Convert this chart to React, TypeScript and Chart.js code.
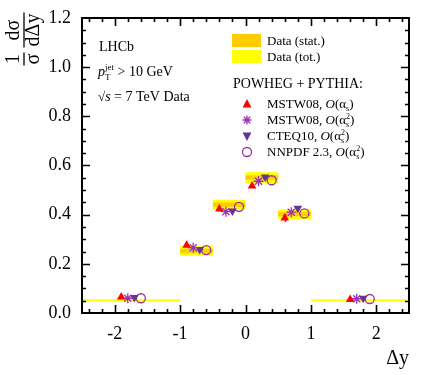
import React, { useEffect, useRef } from "react";
import { Chart, registerables } from "chart.js";

Chart.register(...registerables);

// ---- data ----
const binLo = [-2.5, -1, -0.5, 0, 0.5, 1];
const binHi = [-1, -0.5, 0, 0.5, 1, 2.5];
const dataVal = [0.052, 0.253, 0.441, 0.551, 0.402, 0.052];
const dataStat = [0.0012, 0.008, 0.009, 0.009, 0.008, 0.0012];
const dataTot = [0.004, 0.019, 0.02, 0.022, 0.02, 0.004];

const mstwLOx = [-1.9, -0.9, -0.4, 0.1, 0.6, 1.6];
const mstwLOy = [0.065, 0.276, 0.423, 0.517, 0.386, 0.055];
const mstwLOerr = [0, 0, 0, 0, 0.016, 0];
const mstwNLOx = [-1.8, -0.8, -0.3, 0.2, 0.7, 1.7];
const mstwNLOy = [0.06, 0.265, 0.412, 0.536, 0.41, 0.058];
const cteqx = [-1.7, -0.7, -0.2, 0.3, 0.8, 1.8];
const cteqy = [0.063, 0.258, 0.415, 0.553, 0.426, 0.06];
const nnpdfx = [-1.6, -0.6, -0.1, 0.4, 0.9, 1.9];
const nnpdfy = [0.06, 0.256, 0.432, 0.54, 0.405, 0.057];

const xTickValues = [-2, -1, 0, 1, 2];
const yTickValues = [0, 0.2, 0.4, 0.6, 0.8, 1.0, 1.2];

const RED = "#FF0000";
const STAR = "#9933BB";
const DOWN = "#663399";
const CIRC = "#993399";
const ORANGE = "#FFCC00";
const YELLOW = "#FFFF00";
const SERIF = "'Liberation Serif', 'DejaVu Serif', serif";

type Part = { t: string; f: string; dy?: number; adv?: boolean };
function drawRich(ctx: CanvasRenderingContext2D, x: number, y: number, parts: Part[]) {
  let cx = x;
  let pending = 0;
  for (const p of parts) {
    ctx.font = p.f;
    const w = ctx.measureText(p.t).width;
    if (p.adv === false) {
      ctx.fillText(p.t, cx, y + (p.dy || 0));
      pending = Math.max(pending, w);
    } else {
      cx += pending;
      pending = 0;
      ctx.fillText(p.t, cx, y + (p.dy || 0));
      cx += w;
    }
  }
}

const toPts = (xs: number[], ys: number[]) => xs.map((x, i) => ({ x, y: ys[i] }));

const decorPlugin = {
  id: "decor",
  beforeDatasetsDraw(chart: any) {
    const { ctx, scales } = chart;
    const xs = scales.x;
    const ys = scales.y;
    ctx.save();
    for (let i = 0; i < binLo.length; i++) {
      const x0 = xs.getPixelForValue(binLo[i]);
      const x1 = xs.getPixelForValue(binHi[i]);
      const yt0 = ys.getPixelForValue(dataVal[i] + dataTot[i]);
      const yt1 = ys.getPixelForValue(dataVal[i] - dataTot[i]);
      ctx.fillStyle = YELLOW;
      ctx.fillRect(x0, yt0, x1 - x0, Math.max(2, yt1 - yt0));
      const ys0 = ys.getPixelForValue(dataVal[i] + dataStat[i]);
      const ys1 = ys.getPixelForValue(dataVal[i] - dataStat[i]);
      if (ys1 - ys0 >= 1.5) {
        ctx.fillStyle = ORANGE;
        ctx.fillRect(x0, ys0, x1 - x0, ys1 - ys0);
      }
    }
    // error bars on MSTW08 LO
    ctx.strokeStyle = RED;
    ctx.lineWidth = 1.5;
    ctx.beginPath();
    for (let i = 0; i < mstwLOx.length; i++) {
      if (!mstwLOerr[i]) continue;
      const px = Math.round(xs.getPixelForValue(mstwLOx[i])) + 0.5;
      ctx.moveTo(px, ys.getPixelForValue(mstwLOy[i] - mstwLOerr[i]));
      ctx.lineTo(px, ys.getPixelForValue(mstwLOy[i] + mstwLOerr[i]));
    }
    ctx.stroke();
    ctx.restore();
  },
  afterDraw(chart: any) {
    const { ctx, chartArea: a, scales } = chart;
    const xs = scales.x;
    const ys = scales.y;
    ctx.save();
    // frame
    ctx.strokeStyle = "#000";
    ctx.lineWidth = 2;
    ctx.strokeRect(a.left, a.top, a.right - a.left, a.bottom - a.top);
    // ticks
    ctx.lineWidth = 1.6;
    ctx.beginPath();
    for (let k = -24; k <= 24; k += 2) {
      const v = k / 10;
      const major = k % 10 === 0;
      const len = major ? 8 : 4;
      const px = Math.round(xs.getPixelForValue(v)) + 0.5;
      ctx.moveTo(px, a.bottom);
      ctx.lineTo(px, a.bottom - len);
      ctx.moveTo(px, a.top);
      ctx.lineTo(px, a.top + len);
    }
    for (let k = 1; k < 24; k++) {
      const v = k * 0.05;
      const major = k % 4 === 0;
      const len = major ? 8 : 4;
      const py = Math.round(ys.getPixelForValue(v)) + 0.5;
      ctx.moveTo(a.left, py);
      ctx.lineTo(a.left + len, py);
      ctx.moveTo(a.right, py);
      ctx.lineTo(a.right - len, py);
    }
    ctx.stroke();

    ctx.fillStyle = "#000";
    ctx.textBaseline = "alphabetic";
    ctx.textAlign = "left";

    // left annotations
    drawRich(ctx, 99, 51, [{ t: "LHCb", f: `14px ${SERIF}` }]);
    drawRich(ctx, 98, 76, [
      { t: "p", f: `italic 14px ${SERIF}` },
      { t: "T", f: `9px ${SERIF}`, dy: 4, adv: false },
      { t: "jet", f: `9px ${SERIF}`, dy: -6, adv: false },
      { t: " > 10 GeV", f: `14px ${SERIF}` },
    ]);
    drawRich(ctx, 98, 101, [
      { t: "\u221A", f: `13px ${SERIF}` },
      { t: "s", f: `italic 14px ${SERIF}` },
      { t: " = 7 TeV Data", f: `14px ${SERIF}` },
    ]);

    // legend
    ctx.fillStyle = ORANGE;
    ctx.fillRect(232, 34, 29, 13);
    ctx.fillStyle = YELLOW;
    ctx.fillRect(232, 50, 29, 13);
    ctx.fillStyle = "#000";
    drawRich(ctx, 267, 45, [{ t: "Data (stat.)", f: `13px ${SERIF}` }]);
    drawRich(ctx, 267, 61, [{ t: "Data (tot.)", f: `13px ${SERIF}` }]);
    drawRich(ctx, 233, 88, [{ t: "POWHEG + PYTHIA:", f: `14px ${SERIF}` }]);

    const mx = 247;
    const rows = [104, 120, 136, 152];
    // triangle up
    ctx.fillStyle = RED;
    ctx.beginPath();
    ctx.moveTo(mx, rows[0] - 5);
    ctx.lineTo(mx + 4.5, rows[0] + 3.5);
    ctx.lineTo(mx - 4.5, rows[0] + 3.5);
    ctx.closePath();
    ctx.fill();
    // star
    ctx.strokeStyle = STAR;
    ctx.lineWidth = 1.3;
    ctx.beginPath();
    for (let j = 0; j < 4; j++) {
      const ang = (j * Math.PI) / 4;
      ctx.moveTo(mx + 4.5 * Math.cos(ang), rows[1] + 4.5 * Math.sin(ang));
      ctx.lineTo(mx - 4.5 * Math.cos(ang), rows[1] - 4.5 * Math.sin(ang));
    }
    ctx.stroke();
    // triangle down
    ctx.fillStyle = DOWN;
    ctx.beginPath();
    ctx.moveTo(mx, rows[2] + 5);
    ctx.lineTo(mx + 4.5, rows[2] - 3.5);
    ctx.lineTo(mx - 4.5, rows[2] - 3.5);
    ctx.closePath();
    ctx.fill();
    // circle
    ctx.strokeStyle = CIRC;
    ctx.lineWidth = 1.3;
    ctx.beginPath();
    ctx.arc(mx, rows[3], 4.5, 0, Math.PI * 2);
    ctx.stroke();

    ctx.fillStyle = "#000";
    const f13 = `13px ${SERIF}`;
    const fi13 = `italic 13px ${SERIF}`;
    const f8 = `8px ${SERIF}`;
    drawRich(ctx, 267, rows[0] + 4, [
      { t: "MSTW08, ", f: f13 },
      { t: "O", f: fi13 },
      { t: "(\u03B1", f: f13 },
      { t: "s", f: f8, dy: 3 },
      { t: ")", f: f13 },
    ]);
    const sq = (label: string, y: number) =>
      drawRich(ctx, 267, y, [
        { t: label, f: f13 },
        { t: "O", f: fi13 },
        { t: "(\u03B1", f: f13 },
        { t: "s", f: f8, dy: 3, adv: false },
        { t: "2", f: f8, dy: -5, adv: false },
        { t: ")", f: f13 },
      ]);
    sq("MSTW08, ", rows[1] + 4);
    sq("CTEQ10, ", rows[2] + 4);
    sq("NNPDF 2.3, ", rows[3] + 4);

    // x title
    ctx.font = `20px ${SERIF}`;
    ctx.textAlign = "right";
    ctx.fillText("\u0394y", 409, 364);

    // y title (rotated fraction)
    ctx.translate(24, 0);
    ctx.rotate(-Math.PI / 2);
    ctx.textAlign = "center";
    ctx.font = `20px ${SERIF}`;
    const frac = (u: number, num: string, den: string) => {
      const w = Math.max(ctx.measureText(num).width, ctx.measureText(den).width);
      ctx.fillText(num, u, -5);
      ctx.fillText(den, u, 15);
      ctx.lineWidth = 1.3;
      ctx.strokeStyle = "#000";
      ctx.beginPath();
      ctx.moveTo(u - w / 2 - 1, 0);
      ctx.lineTo(u + w / 2 + 1, 0);
      ctx.stroke();
    };
    frac(-59, "1", "\u03C3");
    frac(-30, "d\u03C3", "d\u0394y");
    ctx.restore();
  },
};

export default function App() {
  const ref = useRef<HTMLCanvasElement | null>(null);
  useEffect(() => {
    if (!ref.current) return;
    const chart = new Chart(ref.current, {
      type: "scatter",
      data: {
        datasets: [
          {
            data: toPts(mstwLOx, mstwLOy),
            pointStyle: "triangle",
            pointRadius: 5,
            backgroundColor: RED,
            borderColor: RED,
            borderWidth: 0,
          },
          {
            data: toPts(mstwNLOx, mstwNLOy),
            pointStyle: "star",
            pointRadius: 5,
            backgroundColor: STAR,
            borderColor: STAR,
            borderWidth: 1.3,
          },
          {
            data: toPts(cteqx, cteqy),
            pointStyle: "triangle",
            rotation: 180,
            pointRadius: 5,
            backgroundColor: DOWN,
            borderColor: DOWN,
            borderWidth: 0,
          },
          {
            data: toPts(nnpdfx, nnpdfy),
            pointStyle: "circle",
            pointRadius: 4.5,
            backgroundColor: "rgba(0,0,0,0)",
            borderColor: CIRC,
            borderWidth: 1.3,
          },
        ] as any,
      },
      options: {
        animation: false,
        responsive: false,
        devicePixelRatio: 1,
        layout: { padding: { top: 18, right: 23, left: 0, bottom: 0 } },
        plugins: { legend: { display: false }, tooltip: { enabled: false } },
        scales: {
          x: {
            type: "linear",
            min: -2.5,
            max: 2.5,
            grid: { display: false },
            border: { display: false },
            ticks: {
              color: "#000",
              font: { family: SERIF, size: 18 },
              padding: 2,
              callback: (v: any) => String(v),
            },
            afterBuildTicks: (s: any) => {
              s.ticks = xTickValues.map((v) => ({ value: v }));
            },
            afterFit: (s: any) => {
              s.height = 62;
            },
          },
          y: {
            type: "linear",
            min: 0,
            max: 1.2,
            grid: { display: false },
            border: { display: false },
            ticks: {
              color: "#000",
              font: { family: SERIF, size: 18 },
              padding: 3,
              callback: (v: any) => Number(v).toFixed(1),
            },
            afterBuildTicks: (s: any) => {
              s.ticks = yTickValues.map((v) => ({ value: v }));
            },
            afterFit: (s: any) => {
              s.width = 82;
            },
          },
        },
      } as any,
      plugins: [decorPlugin],
    });
    return () => chart.destroy();
  }, []);
  return (
    <div style={{ position: "fixed", left: 0, top: 0, width: 432, height: 375, background: "#fff" }}>
      <canvas ref={ref} width={432} height={375} style={{ width: 432, height: 375 }} />
    </div>
  );
}
